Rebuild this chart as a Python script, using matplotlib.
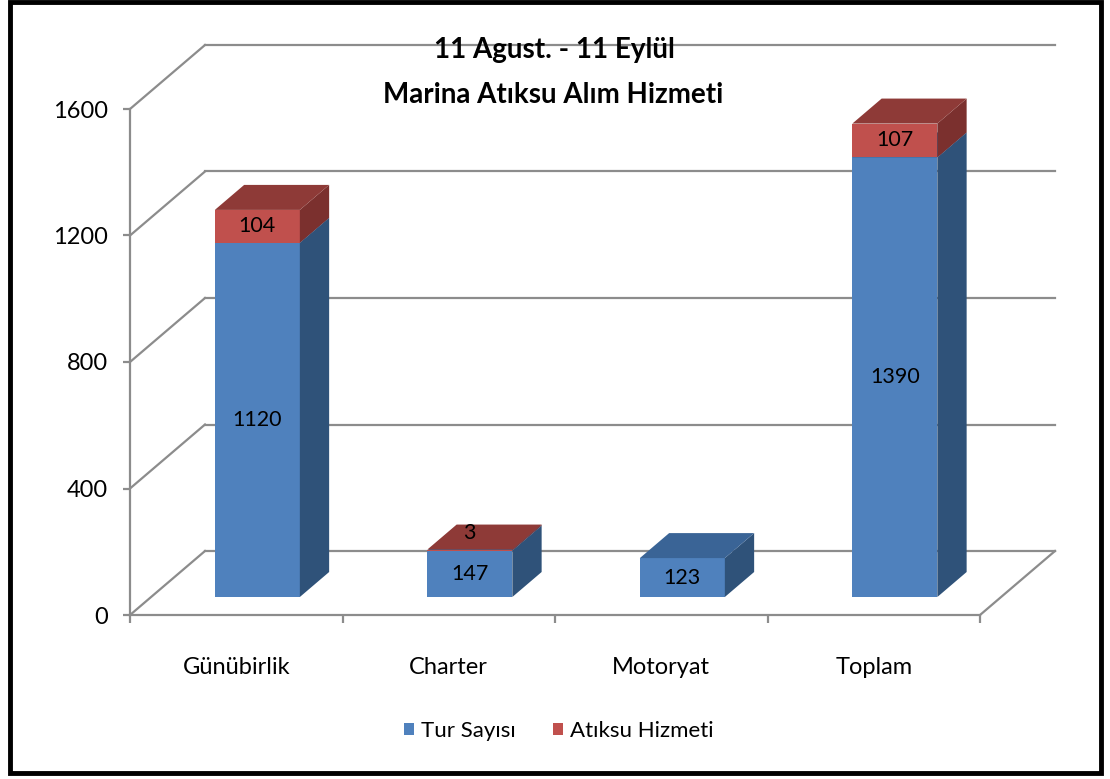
import matplotlib
matplotlib.use('Agg')
import matplotlib.pyplot as plt
from matplotlib.patches import Polygon, Rectangle, Patch

plt.rcParams['font.family'] = ['Lato', 'DejaVu Sans']

categories = ['Günübirlik', 'Charter', 'Motoryat', 'Toplam']
tur_sayisi = [1120, 147, 123, 1390]
atiksu_hizmeti = [104, 3, 0, 107]
series_names = ['Tur Sayısı', 'Atıksu Hizmeti']
yticks = [0, 400, 800, 1200, 1600]

title_lines = ['11 Agust. - 11 Eylül', 'Marina Atıksu Alım Hizmeti']

# face colours: front, side, top
blue = ('#4F81BD', '#2F5279', '#3A6496')
red = ('#C0504D', '#7B302E', '#8E3A37')
grid_col = '#8C8C8C'

W, H = 1110, 779
fig = plt.figure(figsize=(W / 100, H / 100), dpi=100)

# front plane of the plot (pixels): x 130..980, y 109..615
ax = fig.add_axes([130 / W, (H - 615) / H, 850 / W, 506 / H])
ax.set_xlim(-0.5, len(categories) - 0.5)
ax.set_ylim(0, 1600)

px_x = 850 / len(categories)   # pixels per category
px_y = 506 / 1600              # pixels per unit


def depth(t):
    # oblique offset in data units; t=1 is the back wall
    return t * 75 / px_x, t * 64 / px_y


xmin, xmax = ax.get_xlim()
wx, wy = depth(1.0)

# back wall gridlines and left wall diagonals
for v in yticks:
    ax.plot([xmin + wx, xmax + wx], [v + wy, v + wy], color=grid_col, lw=1.6,
            clip_on=False, zorder=1)
    ax.plot([xmin, xmin + wx], [v, v + wy], color=grid_col, lw=1.6,
            clip_on=False, zorder=1)
ax.plot([xmax, xmax + wx], [0, wy], color=grid_col, lw=1.6, clip_on=False, zorder=1)

# 3d stacked bars
bw = 0.4
fx, fy = depth(18 / 64)
bx, by = depth(43 / 64)
ddx, ddy = bx - fx, by - fy


def draw_segment(i, bottom, height, cols):
    x0 = i - bw / 2 + fx
    y0 = bottom + fy
    y1 = y0 + height
    ax.add_patch(Rectangle((x0, y0), bw, height, facecolor=cols[0],
                           edgecolor='none', zorder=3, clip_on=False))
    ax.add_patch(Polygon([(x0 + bw, y0), (x0 + bw + ddx, y0 + ddy),
                          (x0 + bw + ddx, y1 + ddy), (x0 + bw, y1)],
                         closed=True, facecolor=cols[1], edgecolor='none',
                         zorder=3, clip_on=False))
    ax.add_patch(Polygon([(x0, y1), (x0 + bw, y1), (x0 + bw + ddx, y1 + ddy),
                          (x0 + ddx, y1 + ddy)],
                         closed=True, facecolor=cols[2], edgecolor='none',
                         zorder=3, clip_on=False))


for i in range(len(categories)):
    t, a = tur_sayisi[i], atiksu_hizmeti[i]
    draw_segment(i, 0, t, blue)
    ax.text(i + fx, t / 2 + fy, str(t), ha='center', va='center',
            fontsize=15.5, zorder=5)
    if a > 0:
        draw_segment(i, t, a, red)
        if a * px_y > 20:
            ax.text(i + fx, t + a / 2 + fy, str(a), ha='center', va='center',
                    fontsize=15.5, zorder=5)
        else:
            ax.annotate(str(a), (i + fx, t + a + fy), xytext=(0, 5),
                        textcoords='offset points', ha='center', va='bottom',
                        fontsize=15.5, zorder=5, annotation_clip=False)

# front axes
for s in ['top', 'right']:
    ax.spines[s].set_visible(False)
for s in ['left', 'bottom']:
    ax.spines[s].set_color(grid_col)
    ax.spines[s].set_linewidth(1.6)

ax.set_yticks(yticks)
ax.set_yticklabels([str(v) for v in yticks], fontsize=17)
ax.tick_params(axis='y', length=5, width=1.6, color=grid_col, pad=11)

ax.set_xticks([i - 0.5 for i in range(len(categories) + 1)])
ax.set_xticklabels([])
ax.set_xticks(range(len(categories)), minor=True)
ax.set_xticklabels(categories, minor=True, fontsize=17)
ax.tick_params(axis='x', which='major', length=6, width=1.6, color=grid_col)
ax.tick_params(axis='x', which='minor', length=0, pad=30)

# title
fig.text(554 / W, 1 - 50 / H, title_lines[0], ha='center', va='center',
         fontsize=20, fontweight='bold')
fig.text(553 / W, 1 - 95 / H, title_lines[1], ha='center', va='center',
         fontsize=20, fontweight='bold')

# legend
handles = [Patch(facecolor=blue[0]), Patch(facecolor=red[0])]
fig.legend(handles, series_names, loc='center', bbox_to_anchor=(559 / W, 1 - 731 / H),
           ncol=2, frameon=False, fontsize=16, handlelength=0.45, handleheight=0.45,
           handletextpad=0.3, columnspacing=1.7)

# outer frame
fig.add_artist(Rectangle((10 / W, (H - 773) / H), 1091 / W, 771 / H,
                         transform=fig.transFigure, fill=False,
                         edgecolor='black', lw=3.5))

fig.savefig('out.png', dpi=100)
